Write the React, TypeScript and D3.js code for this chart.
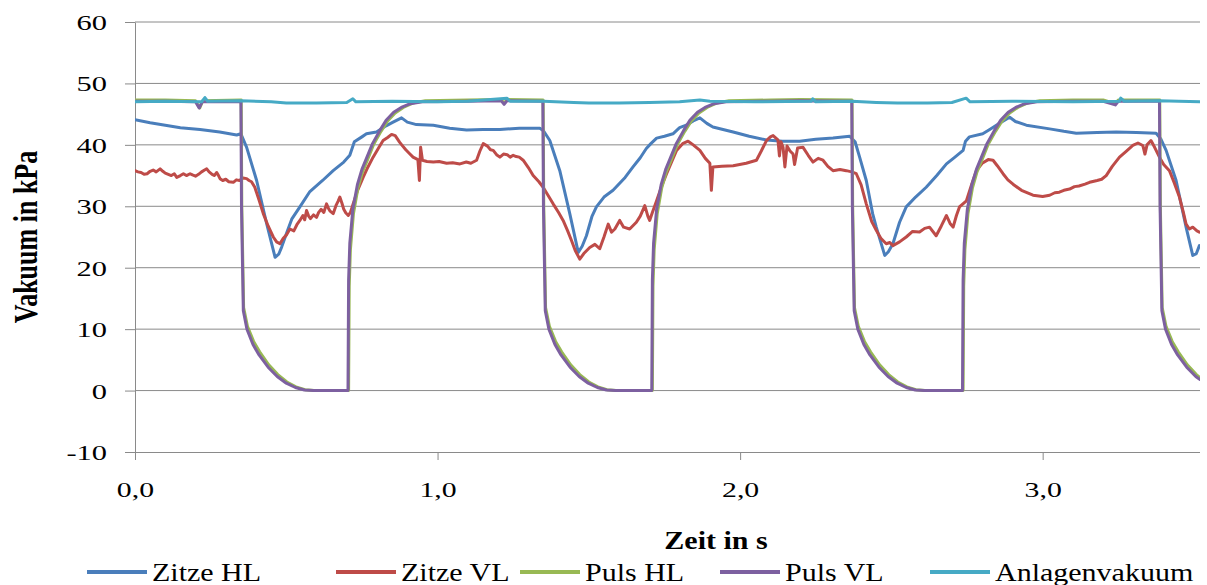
import * as d3 from 'd3'
import React from 'react'

// series as [time in s, vacuum in kPa]
const zitzeHL: [number, number][] = [
  [0, 44.1], [0.05, 43.6], [0.1, 43.2], [0.15, 42.8], [0.215, 42.5], [0.28, 42.1], [0.336, 41.6], [0.35, 41.8],
  [0.369, 39.6], [0.402, 34.2], [0.435, 27.2], [0.463, 21.7], [0.475, 22.2], [0.485, 23.4], [0.5, 25.5], [0.518, 27.9],
  [0.545, 29.9], [0.578, 32.4], [0.62, 34.2], [0.655, 35.8], [0.69, 37.2], [0.71, 38.3], [0.725, 40.5], [0.75, 41.3],
  [0.765, 41.8], [0.798, 42.1], [0.83, 43.1], [0.853, 43.7], [0.881, 44.4], [0.9, 43.7], [0.93, 43.3], [0.986, 43.2],
  [1.04, 42.7], [1.096, 42.4], [1.15, 42.5], [1.206, 42.5], [1.27, 42.7], [1.338, 42.7], [1.35, 42.3], [1.371, 40.7],
  [1.404, 35.8], [1.437, 28.8], [1.465, 22.5], [1.478, 23.5], [1.492, 25.2], [1.51, 28.3], [1.525, 29.9], [1.55, 31.5],
  [1.58, 32.6], [1.62, 34.7], [1.646, 36.4], [1.67, 37.9], [1.69, 39.4], [1.705, 40.2], [1.724, 41.1], [1.75, 41.4],
  [1.778, 41.8], [1.8, 42.8], [1.822, 43.2], [1.845, 43.9], [1.867, 44.4], [1.89, 43.5], [1.91, 42.9], [1.977, 42.1],
  [2.03, 41.4], [2.087, 40.8], [2.14, 40.6], [2.197, 40.6], [2.25, 40.9], [2.307, 41.1], [2.362, 41.4], [2.38, 40.5],
  [2.395, 38.0], [2.417, 34.2], [2.438, 28.8], [2.45, 26.6], [2.478, 22.0], [2.49, 22.6], [2.505, 23.9], [2.527, 27.4],
  [2.549, 29.9], [2.58, 31.5], [2.615, 33.1], [2.65, 35.0], [2.682, 36.9], [2.71, 38.0], [2.737, 39.1], [2.745, 40.6],
  [2.758, 41.3], [2.802, 41.8], [2.825, 42.5], [2.847, 43.2], [2.87, 43.9], [2.891, 44.5], [2.91, 43.8], [2.946, 43.2],
  [3.023, 42.6], [3.07, 42.2], [3.111, 41.9], [3.18, 42.0], [3.243, 42.1], [3.31, 42.0], [3.375, 41.9], [3.39, 41.0],
  [3.408, 39.1], [3.441, 34.2], [3.474, 26.6], [3.496, 22.0], [3.508, 22.3], [3.518, 23.6],
]

const zitzeVL: [number, number][] = [
  [0, 35.8], [0.01, 35.6], [0.02, 35.5], [0.03, 35.2], [0.04, 35.3], [0.05, 35.7], [0.06, 35.9], [0.07, 35.6],
  [0.083, 36.1], [0.092, 35.7], [0.1, 35.4], [0.11, 35.2], [0.12, 35.0], [0.13, 35.3], [0.138, 34.7], [0.15, 35.0],
  [0.16, 35.3], [0.17, 35.0], [0.182, 35.3], [0.19, 35.1], [0.2, 34.9], [0.21, 35.2], [0.22, 35.6], [0.23, 35.9],
  [0.237, 36.1], [0.245, 35.6], [0.255, 35.2], [0.262, 35.0], [0.27, 35.5], [0.276, 35.0], [0.281, 34.5], [0.29, 34.2],
  [0.3, 34.4], [0.31, 34.0], [0.325, 33.9], [0.335, 34.3], [0.345, 34.2], [0.357, 34.6], [0.369, 34.5], [0.377, 34.2],
  [0.385, 34.0], [0.396, 33.1], [0.41, 31.0], [0.424, 28.8], [0.44, 26.8], [0.457, 25.0], [0.468, 24.2], [0.479, 23.9],
  [0.49, 24.8], [0.5, 25.3], [0.512, 26.3], [0.525, 26.0], [0.535, 27.0], [0.545, 27.7], [0.555, 28.5], [0.561, 27.8],
  [0.567, 29.3], [0.574, 28.4], [0.58, 28.0], [0.59, 28.6], [0.6, 28.2], [0.607, 29.0], [0.615, 29.5], [0.624, 29.0],
  [0.633, 30.4], [0.64, 29.6], [0.645, 29.2], [0.655, 28.8], [0.665, 30.2], [0.671, 30.8], [0.677, 31.5], [0.684, 30.5],
  [0.69, 29.5], [0.697, 28.9], [0.705, 28.5], [0.712, 29.0], [0.721, 30.4], [0.735, 32.5], [0.754, 34.7], [0.77, 36.4],
  [0.787, 38.0], [0.805, 39.5], [0.82, 40.7], [0.835, 41.2], [0.848, 41.7], [0.86, 41.5], [0.875, 40.4], [0.885, 39.8],
  [0.895, 39.2], [0.907, 38.6], [0.919, 38.0], [0.935, 37.6], [0.94, 34.2], [0.944, 39.6], [0.95, 37.5], [0.965, 37.3],
  [0.986, 37.2], [1.005, 37.3], [1.03, 37.0], [1.05, 37.1], [1.074, 36.9], [1.095, 37.2], [1.11, 37.0], [1.129, 37.5],
  [1.14, 39.0], [1.151, 40.2], [1.165, 39.8], [1.175, 39.2], [1.184, 39.1], [1.195, 38.4], [1.206, 38.0], [1.218, 38.5],
  [1.23, 38.4], [1.24, 38.0], [1.25, 38.3], [1.26, 38.1], [1.27, 38.0], [1.283, 37.5], [1.3, 36.3], [1.316, 35.0],
  [1.335, 34.0], [1.349, 33.1], [1.365, 31.8], [1.382, 30.4], [1.4, 29.0], [1.415, 27.7], [1.43, 26.0], [1.443, 24.4],
  [1.455, 22.8], [1.47, 21.4], [1.485, 22.4], [1.503, 23.3], [1.52, 23.8], [1.536, 23.1], [1.55, 25.0], [1.564, 27.1],
  [1.575, 25.8], [1.586, 26.3], [1.602, 27.7], [1.615, 26.6], [1.635, 26.3], [1.657, 27.4], [1.67, 28.4], [1.685, 30.1],
  [1.695, 28.4], [1.701, 27.7], [1.71, 29.0], [1.724, 30.9], [1.74, 33.2], [1.757, 35.3], [1.775, 37.4], [1.79, 39.1],
  [1.81, 40.2], [1.828, 40.6], [1.845, 40.0], [1.867, 39.1], [1.885, 37.8], [1.9, 37.0], [1.905, 32.6], [1.91, 36.4],
  [1.94, 36.5], [1.977, 36.6], [2.02, 37.0], [2.054, 37.5], [2.07, 39.0], [2.087, 40.7], [2.1, 41.3], [2.109, 41.5],
  [2.125, 40.8], [2.13, 38.2], [2.135, 40.5], [2.142, 39.6], [2.148, 36.4], [2.155, 39.8], [2.165, 39.0], [2.175, 38.5],
  [2.18, 36.8], [2.19, 39.5], [2.208, 39.6], [2.225, 38.3], [2.241, 37.2], [2.258, 37.8], [2.274, 37.5], [2.29, 36.5],
  [2.307, 35.8], [2.33, 36.0], [2.351, 35.8], [2.369, 35.6], [2.384, 35.3], [2.4, 33.5], [2.417, 30.4], [2.435, 27.5],
  [2.45, 26.1], [2.465, 24.8], [2.483, 23.9], [2.495, 24.1], [2.505, 23.6], [2.527, 24.2], [2.549, 25.0], [2.57, 25.9],
  [2.593, 25.8], [2.61, 26.4], [2.626, 26.6], [2.648, 25.2], [2.665, 26.8], [2.682, 28.5], [2.694, 27.2], [2.704, 26.6],
  [2.715, 28.5], [2.725, 29.9], [2.748, 30.9], [2.765, 33.5], [2.781, 35.8], [2.8, 37.0], [2.82, 37.6], [2.836, 37.5],
  [2.85, 36.6], [2.869, 35.3], [2.885, 34.3], [2.902, 33.6], [2.93, 32.6], [2.968, 31.8], [3.0, 31.6], [3.023, 31.8],
  [3.04, 32.2], [3.055, 32.3], [3.07, 32.6], [3.089, 32.8], [3.105, 33.2], [3.12, 33.3], [3.14, 33.6], [3.155, 33.9],
  [3.18, 34.2], [3.195, 34.4], [3.21, 35.0], [3.23, 36.5], [3.254, 38.0], [3.275, 38.9], [3.298, 39.9], [3.315, 40.3],
  [3.331, 39.9], [3.338, 38.5], [3.345, 40.0], [3.358, 40.7], [3.37, 39.6], [3.386, 38.0], [3.4, 36.8], [3.419, 35.8],
  [3.435, 33.8], [3.452, 31.5], [3.465, 29.0], [3.474, 27.1], [3.485, 26.3], [3.496, 26.6], [3.51, 26.0], [3.518, 25.8],
]

const pulsHL: [number, number][] = [
  [0, 47.3], [0.1, 47.3], [0.2, 47.2], [0.214, 46.0], [0.224, 47.2], [0.351, 47.3],
  [0.353, 30], [0.359, 13.5], [0.372, 10.4], [0.392, 8], [0.412, 6.3], [0.442, 4.2], [0.472, 2.6], [0.502, 1.4],
  [0.532, 0.6], [0.562, 0.15], [0.592, 0], [0.706, 0],
  [0.708, 17], [0.712, 23], [0.722, 28.8], [0.737, 33], [0.752, 35.6], [0.768, 37.5], [0.788, 40], [0.813, 42.2],
  [0.835, 43.9], [0.86, 45.2], [0.887, 46.1], [0.918, 46.8], [0.96, 47.2], [1.1, 47.3], [1.21, 47.4], [1.22, 46.8],
  [1.23, 47.4], [1.349, 47.3],
  [1.351, 30], [1.357, 13.5], [1.37, 10.4], [1.39, 8], [1.41, 6.3], [1.44, 4.2], [1.47, 2.6], [1.5, 1.4],
  [1.53, 0.6], [1.56, 0.15], [1.59, 0], [1.71, 0],
  [1.712, 17], [1.716, 23], [1.726, 28.8], [1.741, 33], [1.756, 35.6], [1.772, 37.5], [1.792, 40], [1.817, 42.2],
  [1.839, 43.9], [1.864, 45.2], [1.891, 46.1], [1.922, 46.8], [1.964, 47.2], [2.1, 47.3], [2.2, 47.4], [2.37, 47.3],
  [2.372, 30], [2.378, 13.5], [2.391, 10.4], [2.411, 8], [2.431, 6.3], [2.461, 4.2], [2.491, 2.6], [2.521, 1.4],
  [2.551, 0.6], [2.581, 0.15], [2.611, 0], [2.737, 0],
  [2.739, 17], [2.743, 23], [2.753, 28.8], [2.768, 33], [2.783, 35.6], [2.799, 37.5], [2.819, 40], [2.844, 42.2],
  [2.866, 43.9], [2.891, 45.2], [2.918, 46.1], [2.949, 46.8], [2.991, 47.2], [3.1, 47.3], [3.2, 47.3], [3.24, 46.7],
  [3.25, 47.3], [3.387, 47.3],
  [3.389, 30], [3.395, 13.5], [3.408, 10.4], [3.428, 8], [3.448, 6.3], [3.478, 4.2], [3.508, 2.6], [3.52, 2.1],
]

const pulsVL: [number, number][] = [
  [0, 47.1], [0.1, 47.1], [0.2, 47.0], [0.212, 46.0], [0.222, 47.0], [0.35, 47.0],
  [0.352, 30], [0.358, 13], [0.37, 10], [0.39, 7.5], [0.41, 5.8], [0.44, 3.8], [0.47, 2.3], [0.5, 1.2],
  [0.53, 0.5], [0.56, 0.1], [0.59, 0], [0.704, 0],
  [0.706, 18], [0.71, 24], [0.72, 29.5], [0.735, 33.5], [0.75, 36], [0.765, 37.8], [0.785, 40.2], [0.81, 42.4],
  [0.83, 44], [0.855, 45.3], [0.88, 46.1], [0.91, 46.7], [0.95, 47.0], [1.1, 47.1], [1.21, 47.2], [1.22, 46.6],
  [1.23, 47.2], [1.348, 47.1],
  [1.35, 30], [1.356, 13], [1.368, 10], [1.388, 7.5], [1.408, 5.8], [1.438, 3.8], [1.468, 2.3], [1.498, 1.2],
  [1.528, 0.5], [1.558, 0.1], [1.588, 0], [1.708, 0],
  [1.71, 18], [1.714, 24], [1.724, 29.5], [1.739, 33.5], [1.754, 36], [1.769, 37.8], [1.789, 40.2], [1.814, 42.4],
  [1.834, 44], [1.859, 45.3], [1.884, 46.1], [1.914, 46.7], [1.954, 47.0], [2.1, 47.1], [2.2, 47.2], [2.369, 47.1],
  [2.371, 30], [2.377, 13], [2.389, 10], [2.409, 7.5], [2.429, 5.8], [2.459, 3.8], [2.489, 2.3], [2.519, 1.2],
  [2.549, 0.5], [2.579, 0.1], [2.609, 0], [2.735, 0],
  [2.737, 18], [2.741, 24], [2.751, 29.5], [2.766, 33.5], [2.781, 36], [2.796, 37.8], [2.816, 40.2], [2.841, 42.4],
  [2.861, 44], [2.886, 45.3], [2.911, 46.1], [2.941, 46.7], [2.981, 47.0], [3.1, 47.1], [3.2, 47.1], [3.24, 46.5],
  [3.25, 47.1], [3.386, 47.1],
  [3.388, 30], [3.394, 13], [3.406, 10], [3.426, 7.5], [3.446, 5.8], [3.476, 3.8], [3.506, 2.3], [3.52, 1.8],
]

const anlagenvakuum: [number, number][] = [
  [0, 47.0], [0.1, 47.1], [0.22, 47.0], [0.231, 47.7], [0.24, 47.1], [0.35, 47.2], [0.45, 47.0], [0.5, 46.8],
  [0.6, 46.8], [0.7, 46.9], [0.72, 47.5], [0.73, 47.0], [0.85, 47.1], [1.0, 47.0], [1.1, 47.1], [1.229, 47.6],
  [1.24, 47.1], [1.35, 47.1], [1.45, 46.9], [1.5, 46.8], [1.6, 46.8], [1.7, 46.9], [1.8, 47.0], [1.867, 47.3],
  [1.9, 47.1], [2.05, 47.0], [2.235, 47.1], [2.24, 47.5], [2.25, 47.0], [2.37, 47.1], [2.45, 46.9], [2.52, 46.8],
  [2.62, 46.8], [2.7, 46.9], [2.747, 47.6], [2.76, 47.0], [2.9, 47.1], [3.1, 47.0], [3.254, 47.1], [3.258, 47.6],
  [3.27, 47.1], [3.386, 47.2], [3.45, 47.1], [3.52, 47.0],
]

const seriesNames = ['Zitze HL', 'Zitze VL', 'Puls HL', 'Puls VL', 'Anlagenvakuum']
const seriesData = [zitzeHL, zitzeVL, pulsHL, pulsVL, anlagenvakuum]
const seriesColors = ['#4A7EBB', '#BE4B48', '#98B954', '#7D60A0', '#46AAC5']
const yTicks = [-10, 0, 10, 20, 30, 40, 50, 60]
const xTicks = [0, 1, 2, 3]

const FONT = '"Liberation Serif", "Times New Roman", serif'
const GRID = '#8a8a8a'

export default function App() {
  const ref = React.useRef<SVGSVGElement>(null)

  React.useEffect(() => {
    const svg = d3.select(ref.current)
    svg.selectAll('*').remove()

    const left = 135, right = 1200, top = 22, bottom = 452
    const x = d3.scaleLinear().domain([0, 3.52]).range([left, right])
    const y = d3.scaleLinear().domain([-10, 60]).range([bottom, top])

    svg.append('rect').attr('width', 1207).attr('height', 585).attr('fill', '#fff')

    // gridlines
    svg.append('g')
      .selectAll('line')
      .data(yTicks.filter(d => d > -10))
      .enter().append('line')
      .attr('x1', left).attr('x2', right)
      .attr('y1', d => y(d)).attr('y2', d => y(d))
      .attr('stroke', GRID).attr('stroke-width', 1)

    // y axis
    const yAxis = svg.append('g')
      .attr('transform', `translate(${left},0)`)
      .call(d3.axisLeft(y).tickValues(yTicks).tickSize(10).tickSizeOuter(0).tickFormat(d => String(d)))
    yAxis.select('.domain').attr('stroke', GRID)
    yAxis.selectAll('.tick line').attr('stroke', GRID)
    yAxis.selectAll('.tick text')
      .attr('font-family', FONT).attr('font-size', 21).attr('fill', '#000')
      .attr('x', -28 / 1.45).attr('dy', '0.36em')
      .attr('transform', 'scale(1.45,1)')

    // x axis
    const xAxis = svg.append('g')
      .attr('transform', `translate(0,${bottom})`)
      .call(d3.axisBottom(x).tickValues(xTicks).tickSize(8).tickSizeOuter(0)
        .tickFormat(d => d3.format('.1f')(d as number).replace('.', ',')))
    xAxis.select('.domain').attr('stroke', GRID).attr('d', `M${left - 10},0.5H${right}`)
    xAxis.selectAll('.tick line').attr('stroke', GRID)
    xAxis.selectAll('.tick text')
      .attr('font-family', FONT).attr('font-size', 21).attr('fill', '#000')
      .attr('y', 30).attr('transform', 'scale(1.42,1)')

    // series
    const clip = svg.append('defs').append('clipPath').attr('id', 'plot-clip')
    clip.append('rect').attr('x', left).attr('y', top - 5).attr('width', right - left).attr('height', bottom - top + 5)

    const line = d3.line<[number, number]>().x(d => x(d[0])).y(d => y(d[1]))
    const plot = svg.append('g').attr('clip-path', 'url(#plot-clip)')
    seriesData.forEach((data, i) => {
      plot.append('path')
        .attr('d', line(data))
        .attr('fill', 'none')
        .attr('stroke', seriesColors[i])
        .attr('stroke-width', 3)
        .attr('stroke-linejoin', 'round')
        .attr('stroke-linecap', 'round')
    })

    // axis titles
    svg.append('text')
      .attr('transform', 'translate(37,237) scale(1.28,1) rotate(-90)')
      .attr('text-anchor', 'middle')
      .attr('font-family', FONT).attr('font-size', 26).attr('font-weight', 'bold')
      .text('Vakuum in kPa')

    svg.append('text')
      .attr('transform', 'translate(716,549) scale(1.2,1)')
      .attr('text-anchor', 'middle')
      .attr('font-family', FONT).attr('font-size', 25).attr('font-weight', 'bold')
      .text('Zeit in s')

    // legend
    const legendX = [87, 336, 520, 720, 930]
    const legend = svg.append('g')
    seriesNames.forEach((name, i) => {
      const lx = legendX[i]
      legend.append('line')
        .attr('x1', lx).attr('x2', lx + 60).attr('y1', 572).attr('y2', 572)
        .attr('stroke', seriesColors[i]).attr('stroke-width', 4)
      legend.append('text')
        .attr('transform', `translate(${lx + 65},581) scale(1.2,1)`)
        .attr('font-family', FONT).attr('font-size', 25)
        .text(name)
    })
  }, [])

  return (
    <svg ref={ref} width={1207} height={585}
      style={{ position: 'absolute', left: 0, top: 0, display: 'block' }} />
  )
}
